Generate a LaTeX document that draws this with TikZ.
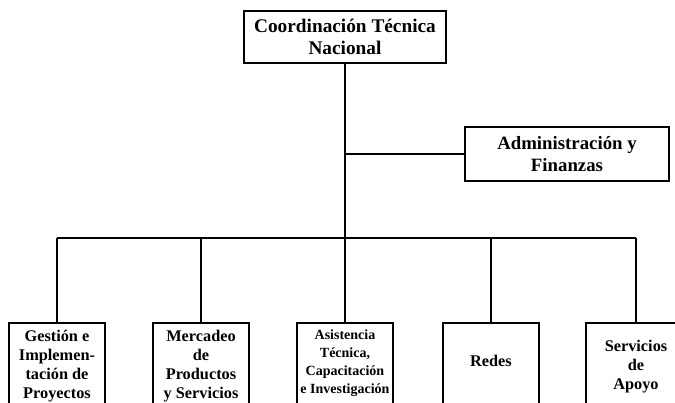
\documentclass[tikz,border=0pt]{standalone}
\usepackage{fontspec}
\setmainfont{Liberation Serif}
\begin{document}
\begin{tikzpicture}[x=1pt,y=-1pt,
  box/.style={draw,line width=1.6pt,inner sep=0pt,align=center,font=\bfseries},
  topbox/.style={box,minimum width=202pt,minimum height=52pt,font=\bfseries\fontsize{19.3}{22.5}\selectfont},
  sidebox/.style={box,minimum width=204pt,minimum height=54pt,font=\bfseries\fontsize{18.8}{22}\selectfont},
  unitbox/.style={box,minimum width=96pt,minimum height=87pt,font=\bfseries\fontsize{16.3}{19}\selectfont},
  conn/.style={line width=1.3pt}]
\clip (0,0) rectangle (675,403);
\node[topbox] (top) at (345,37) {Coordinación Técnica\\Nacional};
\node[sidebox] (adm) at (567,154) {Administración y\\Finanzas};
\node[unitbox] (u1) at (57,366.5) {Gestión e\\Implemen-\\tación de\\Proyectos};
\node[unitbox] (u2) at (201,366.5) {Mercadeo\\de\\Productos\\y Servicios};
\node[unitbox,font=\bfseries\fontsize{14}{18}\selectfont] (u3) at (345,366.5) {Asistencia\\Técnica,\\Capacitación\\e Investigación\\[-8pt]};
\node[unitbox] (u4) at (491,366.5) {Redes\\[-7pt]};
\node[unitbox,minimum width=100pt] (u5) at (636,366.5) {Servicios\\de\\Apoyo};
\coordinate (bar) at (345,238);
\draw[conn] (top.south) -- (top.south |- bar);
\draw[conn] (adm.west) -- (adm.west -| top.south);
\draw[conn] (u1.north |- bar) -- (u5.north |- bar);
\foreach \u in {u1,u2,u3,u4,u5}
  \draw[conn] (\u.north) -- (\u.north |- bar);
\end{tikzpicture}
\end{document}
